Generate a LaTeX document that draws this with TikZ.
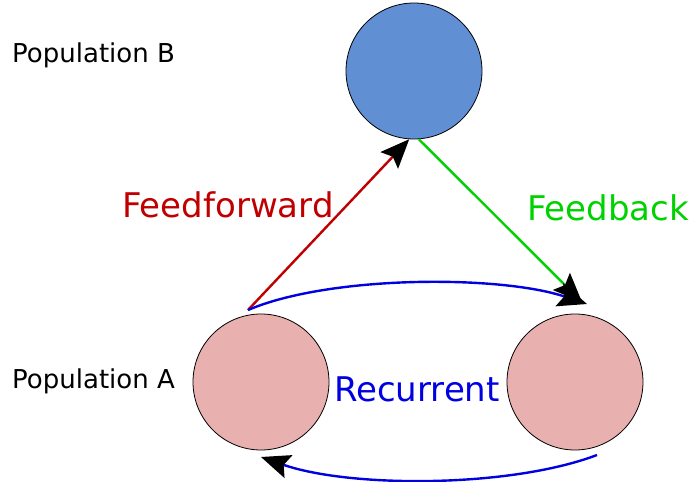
\documentclass[tikz,border=0pt]{standalone}
\usepackage{fontspec}
\setmainfont{DejaVu Sans}
\usetikzlibrary{arrows.meta}
\definecolor{popblue}{RGB}{96,143,212}
\definecolor{poppink}{RGB}{232,176,174}
\definecolor{ffred}{RGB}{192,0,0}
\definecolor{fbgreen}{RGB}{0,210,0}
\definecolor{recblue}{RGB}{0,0,225}
\tikzset{
  pop/.style={circle, draw=black, line width=0.8pt, minimum size=136pt, inner sep=0pt},
  poplabel/.style={anchor=west, inner sep=0pt, font=\fontsize{26}{31}\selectfont},
  edgelabel/.style={inner sep=0pt, font=\fontsize{34}{41}\selectfont},
  conn/.style={line width=2.4pt, -{Stealth[length=29pt,width=24pt,inset=5pt,black]}},
}
\begin{document}
\begin{tikzpicture}[x=1pt,y=-1pt]
  \useasboundingbox (0,0) rectangle (691,482);
  % populations
  \node[pop, fill=popblue] (B) at (414,71) {};
  \node[pop, fill=poppink] (A1) at (261,382) {};
  \node[pop, fill=poppink] (A2) at (575,382) {};
  % labels
  \node[poplabel] (labB) at (12,55) {Population B};
  \node[poplabel] (labA) at (12,381) {Population A};
  % connector end points
  \coordinate (a1top) at (248,310);
  \coordinate (a2top) at (587,304);
  \coordinate (fbend) at (582,302);
  \coordinate (a2low) at (597,455);
  \coordinate (a1low) at (261,457);
  % feedforward and feedback
  \draw[conn, ffred] (a1top) -- (B.266);
  \draw[conn, fbgreen] (B.274) -- (fbend);
  % recurrent connections
  \draw[conn, recblue] (a1top) .. controls (330,275) and (500,275) .. (a2top);
  \draw[conn, recblue] (a2low) .. controls (510,488) and (350,488) .. (a1low);
  % edge labels
  \node[edgelabel, text=ffred] (lff) at (228,205) {Feedforward};
  \node[edgelabel, text=fbgreen] (lfb) at (608,208) {Feedback};
  \node[edgelabel, text=recblue] (lrec) at (417,389) {Recurrent};
\end{tikzpicture}
\end{document}
